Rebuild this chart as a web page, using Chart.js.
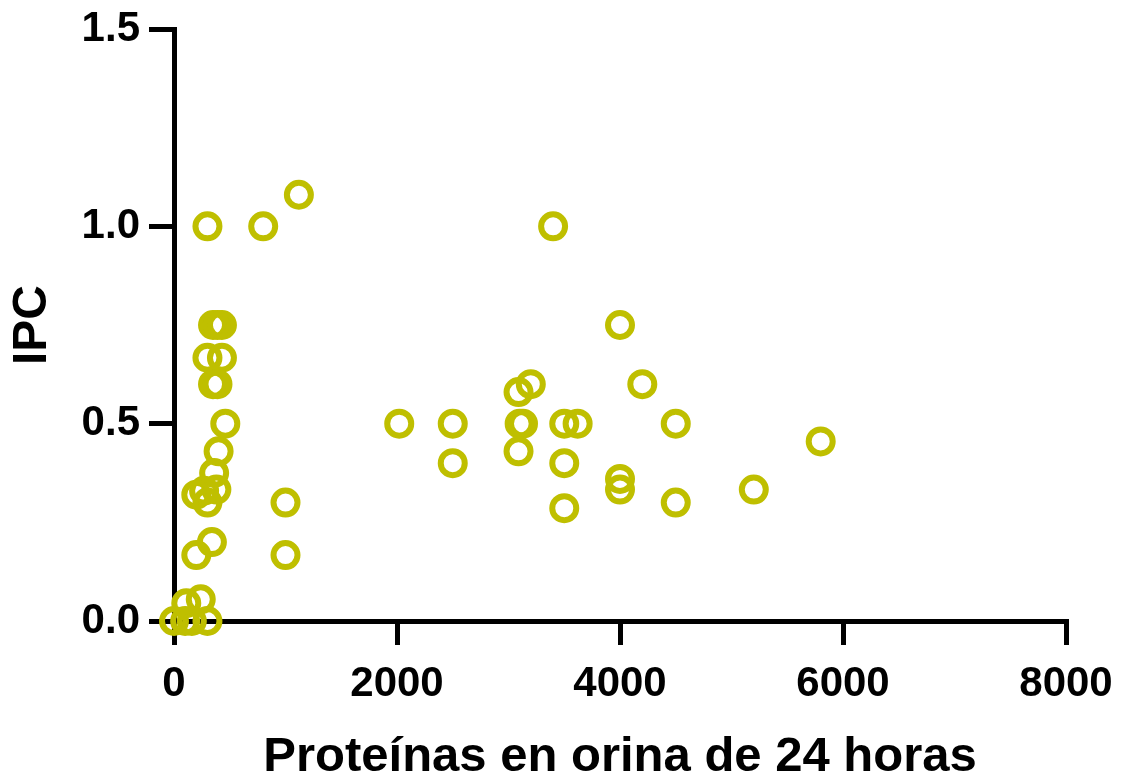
<!DOCTYPE html>
<html>
<head>
<meta charset="utf-8">
<script src="https://cdn.jsdelivr.net/npm/chart.js@4/dist/chart.umd.min.js"></script>
<style>
  html, body { margin: 0; padding: 0; background: #ffffff; }
  #wrap { width: 1122px; height: 776px; position: relative; }
</style>
</head>
<body>
<div id="wrap"><canvas id="c" width="1122" height="776"></canvas></div>
<script>
// Proteínas en orina de 24 horas (x) vs IPC (y)
const proteinas = [
  300, 800, 1120, 3400, 4000, 4200, 3200, 3090, 3100, 3130, 2020, 2500, 2500, 3090,
  3500, 3620, 3500, 3500, 4000, 4000, 4500, 4500, 5200, 5800, 1000, 1000,
  350, 390, 430, 300, 430, 350, 390, 460, 400, 360, 380, 270, 200, 300,
  340, 200, 240, 110, 0, 100, 160, 300
];
const ipc = [
  1.0, 1.0, 1.08, 1.0, 0.75, 0.6, 0.6, 0.58, 0.5, 0.5, 0.5, 0.5, 0.4, 0.43,
  0.5, 0.5, 0.4, 0.286, 0.36, 0.333, 0.5, 0.3, 0.333, 0.455, 0.3, 0.167,
  0.75, 0.75, 0.75, 0.667, 0.667, 0.6, 0.6, 0.5, 0.43, 0.375, 0.333, 0.33, 0.32, 0.3,
  0.2, 0.167, 0.055, 0.045, 0, 0, 0, 0
];
const xTicks = [0, 2000, 4000, 6000, 8000];
const yTicks = [0, 0.5, 1.0, 1.5];

const points = proteinas.map((x, i) => ({ x: x, y: ipc[i] }));
const FONT = '"Liberation Sans", Arial, Helvetica, sans-serif';
const MARK = '#bfbf00';

new Chart(document.getElementById('c'), {
  type: 'scatter',
  data: {
    datasets: [{
      data: points,
      showLine: false,
      borderColor: MARK,
      backgroundColor: 'rgba(0,0,0,0)',
      clip: false
    }]
  },
  options: {
    responsive: false,
    animation: false,
    events: [],
    elements: {
      point: {
        pointStyle: 'circle',
        radius: 12,
        hoverRadius: 12,
        borderWidth: 6,
        hoverBorderWidth: 6,
        borderColor: MARK,
        backgroundColor: 'rgba(0,0,0,0)'
      }
    },
    layout: { padding: { top: 29, right: 56, left: 0, bottom: 0 } },
    plugins: { legend: { display: false }, tooltip: { enabled: false } },
    scales: {
      x: {
        type: 'linear',
        min: xTicks[0],
        max: xTicks[xTicks.length - 1],
        afterBuildTicks: (s) => { s.ticks = xTicks.map(v => ({ value: v })); },
        afterFit: (s) => { s.height = 155; s.paddingLeft = 0; s.paddingRight = 0; },
        ticks: {
          color: '#000',
          padding: 14,
          font: { family: FONT, size: 42, weight: 'bold' },
          callback: (v) => String(v)
        },
        grid: { drawOnChartArea: false, drawTicks: true, tickLength: 24, lineWidth: 5, color: '#000' },
        border: { display: true, width: 5, color: '#000' },
        title: {
          display: true,
          text: 'Proteínas en orina de 24 horas',
          color: '#000',
          font: { family: FONT, size: 49, weight: 'bold', lineHeight: 1 },
          padding: { top: 0, bottom: -6 }
        }
      },
      y: {
        type: 'linear',
        min: yTicks[0],
        max: yTicks[yTicks.length - 1],
        afterBuildTicks: (s) => { s.ticks = yTicks.map(v => ({ value: v })); },
        afterFit: (s) => { s.width = 174; s.paddingTop = 0; s.paddingBottom = 0; },
        ticks: {
          color: '#000',
          padding: 9,
          font: { family: FONT, size: 42, weight: 'bold' },
          callback: (v) => Number(v).toFixed(1)
        },
        grid: { drawOnChartArea: false, drawTicks: true, tickLength: 25, lineWidth: 5, color: '#000' },
        border: { display: true, width: 5, color: '#000' },
        title: {
          display: true,
          text: 'IPC',
          color: '#000',
          font: { family: FONT, size: 48, weight: 'bold', lineHeight: 1 },
          padding: { top: 9, bottom: 0 }
        }
      }
    }
  }
});
</script>
</body>
</html>
